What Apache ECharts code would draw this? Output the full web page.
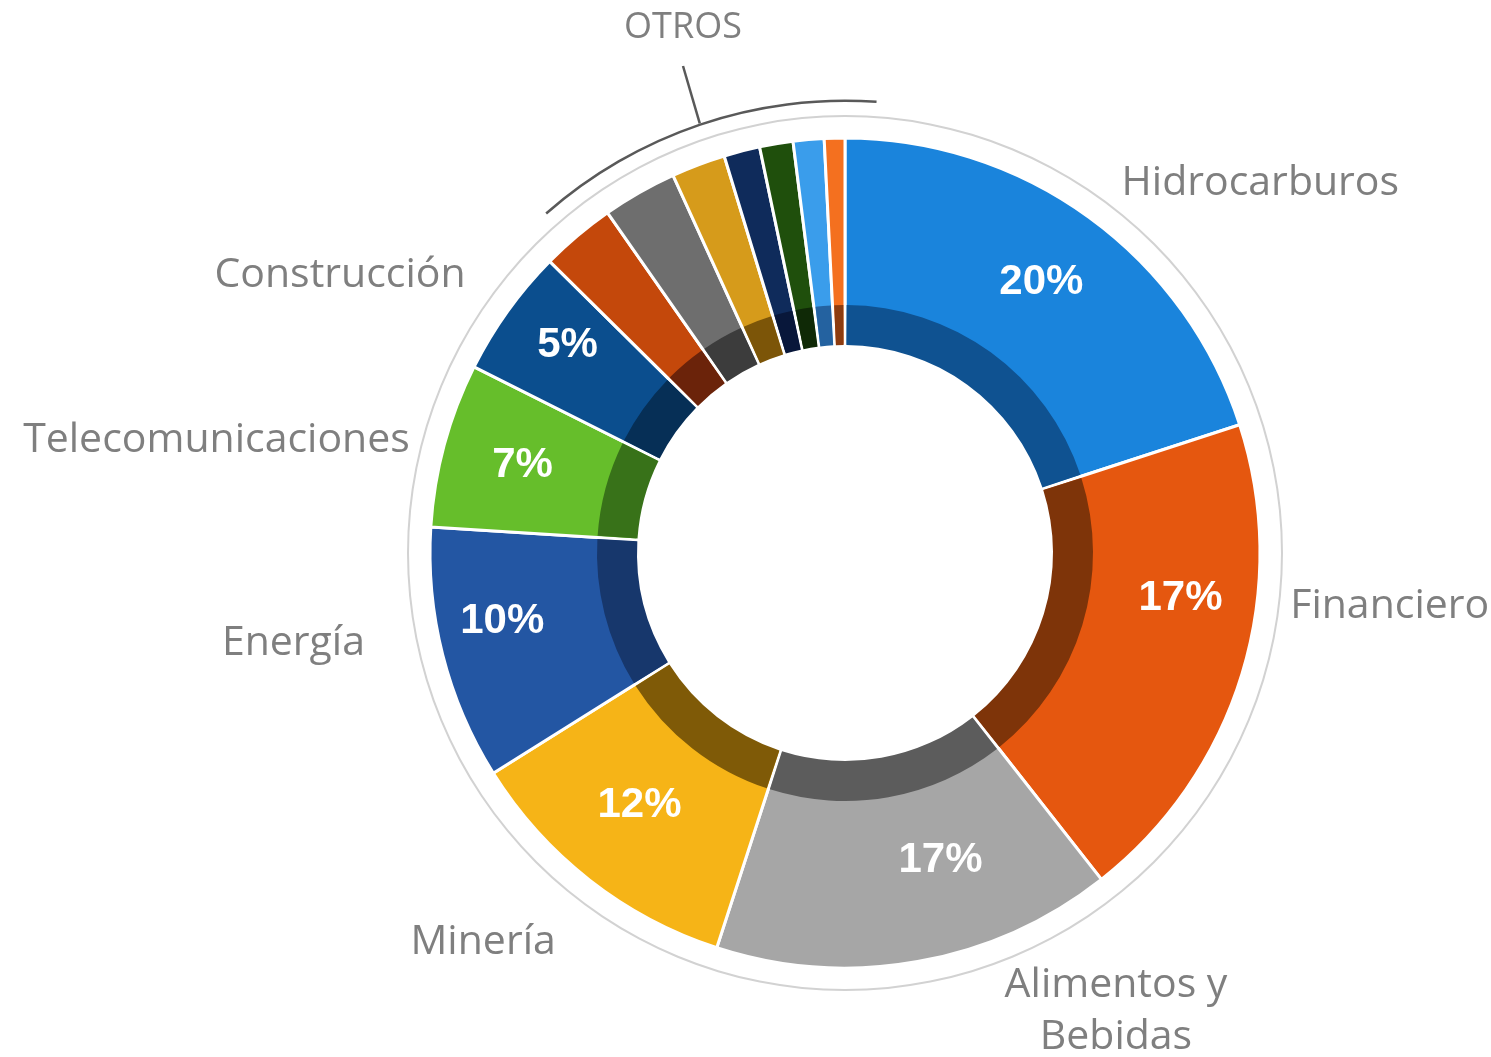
<!DOCTYPE html>
<html>
<head>
<meta charset="utf-8">
<script src="https://cdn.jsdelivr.net/npm/echarts@6/dist/echarts.min.js"></script>
<style>
	html, body { margin: 0; padding: 0; background: #fff; }
	#sector_pieID { width: 1491px; height: 1057px; }
</style>
</head>
<body>
<div id="sector_pieID"></div>
<script>
//Participación por sector
var sectorNames = ['Hidrocarburos', 'Financiero', 'Alimentos y\nBebidas', 'Minería', 'Energía', 'Telecomunicaciones', 'Construcción'];
var sectorShares = [20.0, 19.4, 15.6, 11.1, 9.9, 6.4, 5.0];
var sectorPctText = ['20%', '17%', '17%', '12%', '10%', '7%', '5%'];
var otrosName = 'OTROS';
var otrosShares = [2.9, 2.9, 2.1, 1.4, 1.3, 1.2, 0.8];

var lightColors = ['#1a84dc', '#e5570f', '#a6a6a6', '#f6b417', '#2356a3', '#66be2b', '#0b4e8e',
	'#c4480b', '#6e6e6e', '#d69b1b', '#0f2b5b', '#1f4f0c', '#3a9deb', '#f4701f'];
var darkColors = ['#0f5291', '#7e3409', '#5c5c5c', '#7f5a07', '#17376c', '#387219', '#062f56',
	'#6b230a', '#3c3c3c', '#7c5508', '#08173a', '#0f2906', '#2462a0', '#8c3c10'];

var pieCenter = [845, 553];
var sector_pie_graphID = null;

function showCharts_Sector_Pie(){
	var lightData = [], darkData = [], pctData = [], bracketData = [];
	var allValues = sectorShares.concat(otrosShares);
	var otrosTotal = 0;
	for (var i = 0; i < allValues.length; i++) {
		var isNamed = i < sectorNames.length;
		var nm = isNamed ? sectorNames[i] : otrosName + ' ' + (i - sectorNames.length + 1);
		lightData.push({ name: nm, value: allValues[i], itemStyle: { color: lightColors[i] } });
		darkData.push({
			name: nm, value: allValues[i],
			itemStyle: { color: darkColors[i] },
			label: { show: isNamed }
		});
		pctData.push({ name: nm, value: allValues[i], label: { show: isNamed } });
		if (isNamed) {
			bracketData.push({ name: nm, value: allValues[i], itemStyle: { color: 'transparent' }, label: { show: false }, labelLine: { show: false } });
		} else {
			otrosTotal += allValues[i];
		}
	}
	bracketData.push({ name: otrosName, value: otrosTotal, itemStyle: { color: '#595959' } });

	// small nudges so the texts sit where the original puts them
	var pctNudge = { 1: [16, -52], 2: [37, -21], 3: [0, -11], 4: [-19, -14], 6: [-6, -13] };
	var nameNudge = { 1: [0, -80], 2: [183, 8], 3: [0, 29], 4: [-29, -22], 5: [14, 7], 6: [0, -11] };

	sector_pie_graphID = echarts.init(document.getElementById('sector_pieID'));
	var option = {
		backgroundColor: '#ffffff',
		animation: false,
		series: [
			{
				name: 'aro',
				type: 'pie',
				silent: true,
				center: pieCenter,
				radius: [436, 438],
				label: { show: false },
				labelLine: { show: false },
				data: [{ value: 1, itemStyle: { color: '#d2d2d2' } }]
			},
			{
				name: 'sector',
				type: 'pie',
				silent: true,
				center: pieCenter,
				radius: [208, 415],
				itemStyle: { borderColor: '#ffffff', borderWidth: 3 },
				label: { show: false },
				labelLine: { show: false },
				data: lightData
			},
			{
				name: 'sector interior',
				type: 'pie',
				silent: true,
				center: pieCenter,
				radius: [208, 248],
				padAngle: 0.75,
				avoidLabelOverlap: false,
				itemStyle: { borderWidth: 0 },
				label: {
					position: 'outside',
					color: '#7f7f7f',
					fontFamily: '"Open Sans", sans-serif',
					fontSize: 41,
					lineHeight: 52,
					formatter: '{b}'
				},
				labelLine: { show: false, length: 209, length2: 3 },
				labelLayout: function(p){
					var n = nameNudge[p.dataIndex];
					if (!n) { return {}; }
					if (p.dataIndex === 2) { return { dx: n[0], dy: n[1], align: 'center' }; }
					return { dx: n[0], dy: n[1] };
				},
				data: darkData
			},
			{
				name: 'porcentaje',
				type: 'pie',
				silent: true,
				center: pieCenter,
				radius: [247, 415],
				itemStyle: { color: 'transparent', borderWidth: 0 },
				label: {
					position: 'inside',
					color: '#ffffff',
					fontFamily: '"Liberation Sans", Arial, sans-serif',
					fontWeight: 'bold',
					fontSize: 42,
					formatter: function(p){ return sectorPctText[p.dataIndex]; }
				},
				labelLayout: function(p){
					var n = pctNudge[p.dataIndex];
					return n ? { dx: n[0], dy: n[1] } : {};
				},
				data: pctData
			},
			{
				name: 'otros',
				type: 'pie',
				silent: true,
				center: pieCenter,
				startAngle: 86,
				radius: [451, 453.5],
				avoidLabelOverlap: false,
				label: {
					position: 'outside',
					formatter: '{t|{b}}\n{g|}',
					rich: {
						t: { color: '#7f7f7f', fontFamily: '"Open Sans", sans-serif', fontSize: 36, lineHeight: 42 },
						g: { fontSize: 10, lineHeight: 24 }
					}
				},
				labelLine: { show: true, length: 30, length2: 0, lineStyle: { color: '#595959', width: 2.5 } },
				labelLayout: function(p){
					return { x: 683, y: 40, align: 'center', verticalAlign: 'middle' };
				},
				data: bracketData
			}
		]
	};
	sector_pie_graphID.setOption(option);
}
showCharts_Sector_Pie();
</script>
</body>
</html>
